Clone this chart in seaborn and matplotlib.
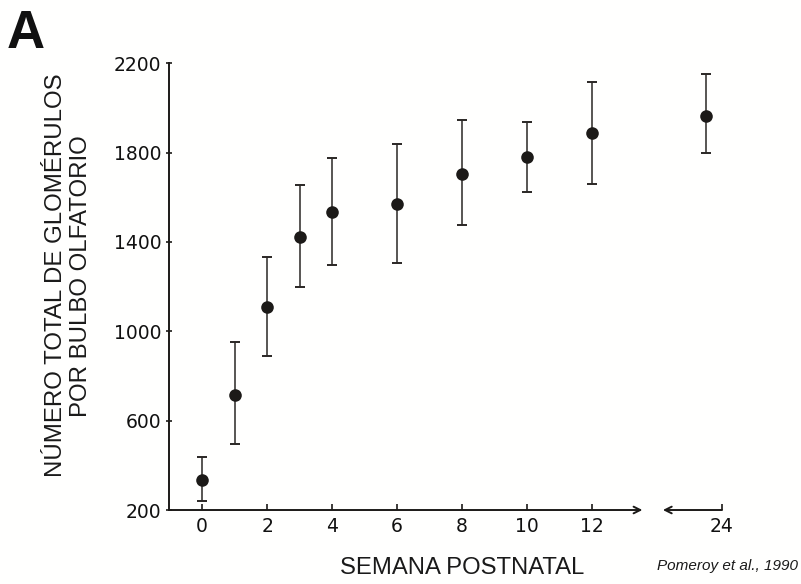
import numpy as np
import pandas as pd
import matplotlib
matplotlib.use("Agg")
import matplotlib.pyplot as plt
import seaborn as sns

# ---- data ----
weeks = [0, 1, 2, 3, 4, 6, 8, 10, 12, 24]
glomeruli = [334, 715, 1108, 1422, 1534, 1570, 1704, 1779, 1887, 1965]
err_upper = [436, 951, 1334, 1655, 1775, 1839, 1946, 1936, 2118, 2152]
err_lower = [242, 494, 889, 1198, 1297, 1307, 1476, 1622, 1660, 1797]
xtick_weeks = [0, 2, 4, 6, 8, 10, 12, 24]
ytick_values = [200, 600, 1000, 1400, 1800, 2200]

# ---- broken x-axis layout (week 24 drawn after the break) ----
BREAK_POINT_POS = 15.5   # where week 24 is plotted
BREAK_TICK_POS = 16.0    # where the "24" tick sits


def xpos(w, tick=False):
    if w <= 12:
        return float(w)
    return BREAK_TICK_POS if tick else BREAK_POINT_POS


df = pd.DataFrame({"week": weeks, "n": glomeruli,
                   "hi": err_upper, "lo": err_lower})
df["pos"] = [xpos(w) for w in weeks]

sns.set_theme(style="white")
plt.rcParams["font.family"] = ["DejaVu Sans"]

ink = "#1c1a18"
fig = plt.figure(figsize=(8.01, 5.84), dpi=100, facecolor="#fffffe")
ax = fig.add_axes([0.211, 0.1267, 0.6904, 0.7649])
ax.set_facecolor("#fffffe")

ax.errorbar(df["pos"], df["n"],
            yerr=[df["n"] - df["lo"], df["hi"] - df["n"]],
            fmt="none", ecolor="#2a2725", elinewidth=1.1,
            capsize=3.6, capthick=1.4, zorder=2)
sns.scatterplot(data=df, x="pos", y="n", s=82, color=ink,
                edgecolor=ink, linewidth=0, ax=ax, zorder=3, legend=False)

ax.set_xlim(-1.02, 16.0)
ax.set_ylim(200, 2200)

# spines
for s in ["top", "right", "bottom"]:
    ax.spines[s].set_visible(False)
ax.spines["left"].set_color(ink)
ax.spines["left"].set_linewidth(1.4)

# custom x-axis with break arrows
ax.annotate("", xy=(13.55, 200), xytext=(-1.02, 200),
            xycoords="data", textcoords="data",
            arrowprops=dict(arrowstyle="->", color=ink, lw=1.4,
                            shrinkA=0, shrinkB=0, mutation_scale=12),
            annotation_clip=False)
ax.annotate("", xy=(14.18, 200), xytext=(16.0, 200),
            xycoords="data", textcoords="data",
            arrowprops=dict(arrowstyle="->", color=ink, lw=1.4,
                            shrinkA=0, shrinkB=0, mutation_scale=12),
            annotation_clip=False)

ax.set_xticks([xpos(w, tick=True) for w in xtick_weeks])
ax.set_xticklabels([str(w) for w in xtick_weeks])
ax.set_yticks(ytick_values)
ax.set_yticklabels([str(v) for v in ytick_values])
ax.tick_params(axis="x", direction="in", length=4, width=1.2, color=ink,
               labelsize=13.5, labelcolor="#111111", pad=5, bottom=True)
ax.tick_params(axis="y", direction="inout", length=5, width=1.2, color=ink,
               labelsize=13.5, labelcolor="#111111", pad=3, left=True)
ax.set_xlabel("")
ax.set_ylabel("")

# texts
fig.text(0.0855, 0.528, "NÚMERO TOTAL DE GLOMÉRULOS\nPOR BULBO OLFATORIO",
         rotation=90, ha="center", va="center", fontsize=17.3,
         family=["Liberation Sans", "DejaVu Sans"], color="#1a1a1a",
         linespacing=1.22)
fig.text(0.577, 0.027, "SEMANA POSTNATAL", ha="center", va="center",
         fontsize=17.2, family=["Liberation Sans", "DejaVu Sans"],
         color="#1a1a1a")
fig.text(0.996, 0.031, "Pomeroy et al., 1990", ha="right", va="center",
         fontsize=11, style="italic",
         family=["Liberation Sans Narrow", "Liberation Sans", "DejaVu Sans"],
         color="#1a1a1a")
fig.text(0.008, 0.984, "A", ha="left", va="top", fontsize=38,
         fontweight="bold", family=["Liberation Sans", "DejaVu Sans"],
         color="#111111")

fig.savefig("out.png", dpi=100, facecolor=fig.get_facecolor())
